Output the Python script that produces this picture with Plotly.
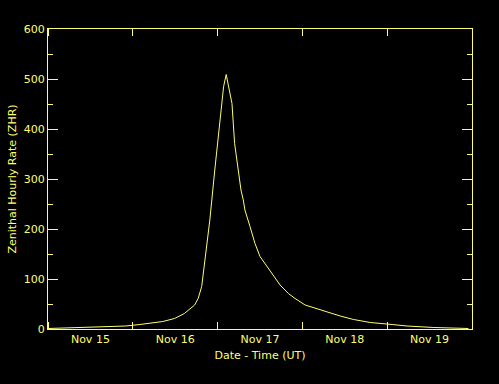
import plotly.graph_objects as go

# Data
times = [
    "2001-11-15 00:00", "2001-11-15 06:00", "2001-11-15 12:00", "2001-11-15 18:00",
    "2001-11-15 22:00", "2001-11-16 02:00", "2001-11-16 05:00", "2001-11-16 08:30",
    "2001-11-16 11:48", "2001-11-16 14:36", "2001-11-16 17:30", "2001-11-16 18:30",
    "2001-11-16 19:30", "2001-11-16 20:24", "2001-11-16 21:48", "2001-11-16 23:12",
    "2001-11-17 00:36", "2001-11-17 01:42", "2001-11-17 02:26", "2001-11-17 03:17",
    "2001-11-17 04:04", "2001-11-17 04:49", "2001-11-17 05:29", "2001-11-17 06:08",
    "2001-11-17 06:37", "2001-11-17 07:16", "2001-11-17 07:44", "2001-11-17 09:10",
    "2001-11-17 10:35", "2001-11-17 12:00", "2001-11-17 13:25", "2001-11-17 15:19",
    "2001-11-17 17:41", "2001-11-17 20:02", "2001-11-17 21:56",
    "2001-11-18 00:46", "2001-11-18 06:24", "2001-11-18 10:42", "2001-11-18 14:30",
    "2001-11-18 19:12", "2001-11-19 01:24", "2001-11-19 05:36", "2001-11-19 13:12",
    "2001-11-19 20:18", "2001-11-19 23:00",
]
zhr = [
    1, 2, 3, 4,
    6, 9, 12, 15,
    21, 31, 48, 61,
    85, 138, 218, 318,
    418, 485, 509, 478,
    451, 371, 338, 305,
    278, 258, 238, 205,
    171, 145, 131, 111,
    88, 71, 61,
    48, 35, 26, 19,
    13, 9, 6, 3,
    1, 1,
]

x_range = ["2001-11-15 00:00", "2001-11-20 00:00"]
day_tick0 = "2001-11-15 00:00"
day_ms = 86400000

YEL = "#ffff6e"
FONT = dict(family="DejaVu Sans", size=11, color=YEL)

fig = go.Figure()
fig.add_trace(go.Scatter(x=times, y=zhr, mode="lines",
                         line=dict(color=YEL, width=1), showlegend=False,
                         hoverinfo="skip"))

fig.update_layout(
    width=499, height=384,
    paper_bgcolor="black", plot_bgcolor="black",
    margin=dict(l=48, r=27, t=29, b=55),
    font=FONT,
    xaxis=dict(
        type="date", range=x_range,
        tickmode="linear", tick0=day_tick0, dtick=day_ms,
        tickformat="%b %d", ticklabelmode="period",
        ticks="inside", ticklen=7, tickcolor=YEL, tickwidth=1,
        showgrid=False, zeroline=False,
        showline=True, linecolor=YEL, linewidth=1, mirror="allticks",
        tickfont=FONT,
        title=dict(text="Date - Time (UT)", font=FONT, standoff=6),
    ),
    yaxis=dict(
        range=[0, 600], tickmode="linear", tick0=0, dtick=100,
        ticks="inside", ticklen=10, tickcolor=YEL, tickwidth=1,
        showgrid=False, zeroline=False,
        showline=True, linecolor=YEL, linewidth=1, mirror="allticks",
        minor=dict(dtick=50, ticks="inside", ticklen=5, tickcolor=YEL,
                   tickwidth=1, showgrid=False),
        tickfont=FONT,
        title=dict(text="Zenithal Hourly Rate (ZHR)", font=FONT, standoff=4),
    ),
)

fig.write_html(
    "out.html",
    config={"displayModeBar": False},
    post_script="document.body.style.margin='0';document.body.style.background='black';",
)
